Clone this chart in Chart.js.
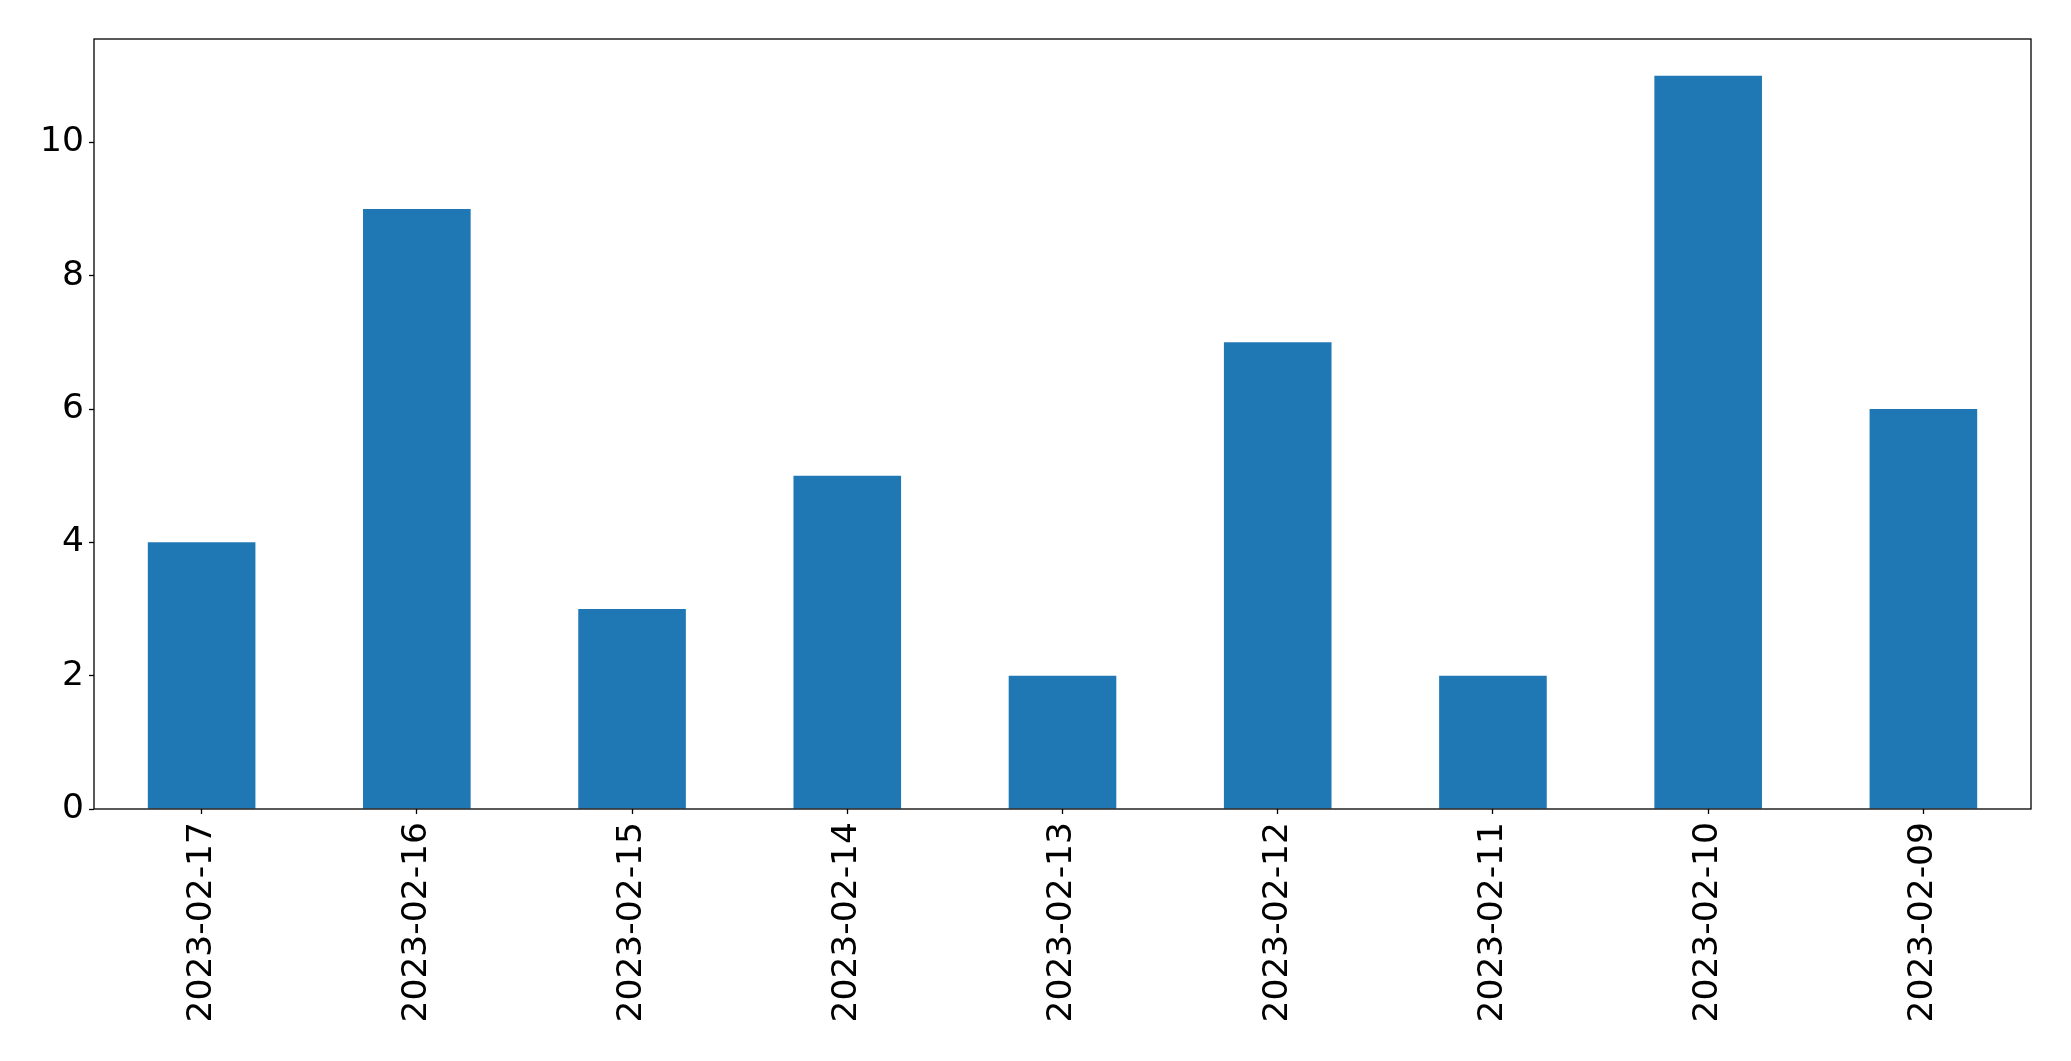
<!DOCTYPE html>
<html>
<head>
<meta charset="utf-8">
<script src="https://cdn.jsdelivr.net/npm/chart.js@4"></script>
<style>
  html, body { margin: 0; padding: 0; background: #fff; }
  #wrap { width: 2071px; height: 1061px; }
</style>
</head>
<body>
<div id="wrap"><canvas id="chart_wrap" width="2071" height="1061"></canvas></div>
<script>
const dates = ['2023-02-17', '2023-02-16', '2023-02-15', '2023-02-14', '2023-02-13',
  '2023-02-12', '2023-02-11', '2023-02-10', '2023-02-09'];
const counts = [4, 9, 3, 5, 2, 7, 2, 11, 6];
const yTicks = [0, 2, 4, 6, 8, 10];

// box around the plot area, like matplotlib's spines
const frameBox = {
  id: 'frameBox',
  afterDraw(chart) {
    const { ctx, chartArea } = chart;
    const l = Math.round(chartArea.left), t = Math.round(chartArea.top);
    const r = Math.round(chartArea.right), b = Math.round(chartArea.bottom);
    ctx.save();
    ctx.strokeStyle = '#000';
    ctx.lineWidth = 1.3;
    ctx.strokeRect(l, t, r - l, b - t);
    ctx.restore();
  }
};

function drawChart(labels, barData) {
  const ctx = document.getElementById('chart_wrap').getContext('2d');
  window.myChart = new Chart(ctx, {
    type: 'bar',
    data: {
      labels: labels,
      datasets: [
        {
          data: barData,
          backgroundColor: '#1f77b4',
          borderWidth: 0,
          categoryPercentage: 1.0,
          barPercentage: 0.5,
        },
      ],
    },
    options: {
      responsive: false,
      animation: false,
      layout: { padding: { top: 39, right: 40, left: 0, bottom: 0 } },
      plugins: { legend: { display: false }, tooltip: { enabled: false } },
      scales: {
        x: {
          offset: true,
          grid: { display: true, offset: false, drawOnChartArea: false, tickLength: 5, color: '#000', tickWidth: 1.3 },
          border: { display: false },
          ticks: {
            color: '#000',
            font: { family: 'DejaVu Sans', size: 34.5 },
            minRotation: 90,
            maxRotation: 90,
            padding: 8,
            autoSkip: false,
          },
          afterFit(scale) { scale.height = 252; },
        },
        y: {
          min: 0,
          max: 11.55,
          grid: { display: true, drawOnChartArea: false, tickLength: 5, color: '#000', tickWidth: 1.3 },
          border: { display: false },
          ticks: {
            color: '#000',
            font: { family: 'DejaVu Sans', size: 34.5 },
            padding: 5,
          },
          afterBuildTicks(scale) { scale.ticks = yTicks.map(v => ({ value: v })); },
          afterFit(scale) { scale.width = 94; },
        },
      },
    },
    plugins: [frameBox],
  });
}

drawChart(dates, counts);
</script>
</body>
</html>
